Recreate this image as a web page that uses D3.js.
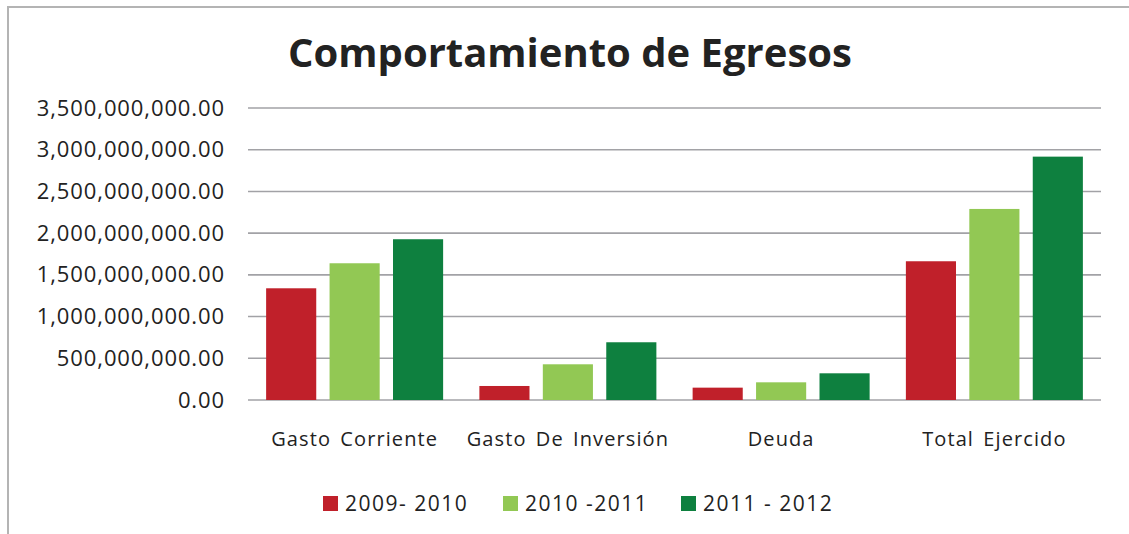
<!DOCTYPE html>
<html lang="es">
<head>
<meta charset="UTF-8">
<title>Comportamiento de Egresos</title>
<script src="https://d3js.org/d3.v7.min.js"></script>
<style>
  body { margin:0; background:#fff; overflow:hidden; }
  svg { display:block; font-family:"Open Sans", sans-serif; }
</style>
</head>
<body>
<svg width="1129" height="534"></svg>
<script>
const categories = ['Gasto Corriente', 'Gasto De Inversión', 'Deuda', 'Total Ejercido'];
const seriesNames = ['2009- 2010', '2010 -2011', '2011 - 2012'];
const v2009 = [1339000000, 168000000, 148000000, 1663000000];
const v2010 = [1639000000, 428000000, 212000000, 2290000000];
const v2011 = [1927000000, 692000000, 320000000, 2917000000];
const colors = ['#c0202a', '#92c854', '#0e803f'];
const yTicks = [0, 5e8, 1e9, 1.5e9, 2e9, 2.5e9, 3e9, 3.5e9];

const seriesValues = [v2009, v2010, v2011];
const svg = d3.select('svg');

// marco del gráfico
svg.append('rect')
  .attr('x', 8).attr('y', 7)
  .attr('width', 1140).attr('height', 560)
  .attr('fill', 'none')
  .attr('stroke', '#b4b4b4')
  .attr('stroke-width', 2);

// titulo
svg.append('text')
  .attr('x', 570).attr('y', 67)
  .attr('text-anchor', 'middle')
  .attr('font-size', 40)
  .attr('font-weight', 700)
  .attr('fill', '#222')
  .text('Comportamiento de Egresos');

const y = d3.scaleLinear().domain([0, 3.5e9]).range([400, 108]);
const x0 = d3.scaleBand().domain(categories).range([248, 1101])
  .paddingInner(0.17).paddingOuter(0.085);
const x1 = d3.scaleBand().domain(d3.range(3)).range([0, x0.bandwidth()])
  .paddingInner(0.21);

// lineas de cuadricula
svg.append('g')
  .selectAll('line')
  .data(yTicks)
  .join('line')
  .attr('x1', 248).attr('x2', 1101)
  .attr('y1', d => y(d)).attr('y2', d => y(d))
  .attr('stroke', '#a2a2a6')
  .attr('stroke-width', 1.6);

// eje y
const yAxis = svg.append('g')
  .attr('transform', 'translate(225,0)')
  .call(d3.axisLeft(y).tickValues(yTicks).tickFormat(d3.format(',.2f')).tickSize(0).tickPadding(0));
yAxis.select('.domain').remove();
yAxis.selectAll('text')
  .attr('font-family', '"Open Sans", sans-serif')
  .attr('font-size', 22)
  .attr('letter-spacing', 0.9)
  .attr('fill', '#222');

// barras
const groups = svg.append('g')
  .selectAll('g')
  .data(categories)
  .join('g')
  .attr('transform', d => `translate(${x0(d)},0)`);

groups.selectAll('rect')
  .data((c, ci) => seriesValues.map((s, si) => ({ si, v: s[ci] })))
  .join('rect')
  .attr('x', d => x1(d.si))
  .attr('width', x1.bandwidth())
  .attr('y', d => y(d.v))
  .attr('height', d => y(0) - y(d.v))
  .attr('fill', d => colors[d.si]);

// etiquetas de categoria
const xAxis = svg.append('g')
  .attr('transform', 'translate(0,400)')
  .call(d3.axisBottom(x0).tickSize(0).tickPadding(32));
xAxis.select('.domain').remove();
xAxis.selectAll('text')
  .attr('font-family', '"Open Sans", sans-serif')
  .attr('font-size', 20)
  .attr('letter-spacing', 1.1)
  .attr('word-spacing', 3)
  .attr('fill', '#222');

// leyenda
const legendX = [323, 503, 681];
const legend = svg.append('g')
  .selectAll('g')
  .data(seriesNames)
  .join('g')
  .attr('transform', (d, i) => `translate(${legendX[i]},496)`);
legend.append('rect')
  .attr('width', 15).attr('height', 15)
  .attr('fill', (d, i) => colors[i]);
legend.append('text')
  .attr('x', 22).attr('y', 15)
  .attr('font-size', 21)
  .attr('letter-spacing', 1.5)
  .attr('fill', '#222')
  .text(d => d);
</script>
</body>
</html>
